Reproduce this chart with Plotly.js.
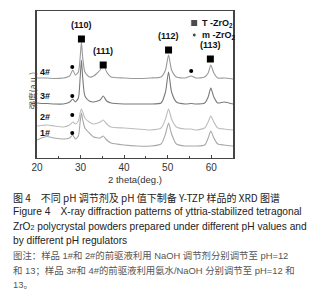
<!DOCTYPE html>
<html><head><meta charset="utf-8">
<script src="https://cdn.plot.ly/plotly-3.0.1.min.js"></script>
<style>
html,body{margin:0;padding:0;background:#fff;width:320px;height:300px;overflow:hidden;}
#chart{position:absolute;left:0;top:0;width:320px;height:190px;}
.cap{position:absolute;left:13px;white-space:nowrap;font-family:"Liberation Sans","Noto Sans CJK SC",sans-serif;font-size:10.2px;color:#222;line-height:12px;}
.note{color:#555;font-size:9.4px;}
</style></head>
<body>
<div id="chart"></div>
<div class="cap" style="top:192px;font-family:'Noto Sans CJK SC',sans-serif;font-size:10px;">图 4　不同 pH 调节剂及 pH 值下制备 Y-TZP 样品的 XRD 图谱</div>
<div class="cap" style="top:206px;">Figure 4　X-ray diffraction patterns of yttria-stabilized tetragonal</div>
<div class="cap" style="top:221px;">ZrO<span style="font-size:7px;">2</span> polycrystal powders prepared under different pH values and</div>
<div class="cap" style="top:235px;">by different pH regulators</div>
<div class="cap note" style="top:250px;">图注：样品 1#和 2#的前驱液利用 NaOH 调节剂分别调节至 pH=12</div>
<div class="cap note" style="top:265px;">和 13；样品 3#和 4#的前驱液利用氨水/NaOH 分别调节至 pH=12 和</div>
<div class="cap note" style="top:279px;">13。</div>
<script>
const twoTheta = [20,21,22.3,24,26,27.5,28.2,28.8,29.5,29.9,30.2,30.5,31,32,33,34.5,35.2,36,37,40,43,46,48.5,49.5,50.2,50.9,52,54,55.4,56.5,58.5,59.3,59.9,60.6,61.5,63,65];
const sample4 = [80,80,80,79.5,80,82,88,83,86,100,116,100,86,81,82,88,94,86,81,80,79.5,80,81,88,103,88,81,80,82,80,81,85,93,85,80,80,79];
const sample3 = [55,54.5,54.5,54,54,56,59,56,60,80,98,80,62,57,56,58,62,57,55,54,54,54,55,66,86,66,56,54,54.5,54,55,61,70,61,55,56,54];
const sample2 = [32,32.5,33,32,31,33,36,34,37,45,49,46,40,36,34,36,38,34,31,30,29,28,30,39,49,39,31,29,29,28,30,36,42,36,30,29,28];
const sample1 = [18,20,21.5,20,19,20,23,19,22,36,45,38,30,25,21,20,22,18,15,13,12,12,14,24,35,24,14,12,12,12,13,20,27,20,14,13,12];
const sampleNames = ["4#","3#","2#","1#"];
const sampleLabelY = [86,62,41,25];
const sampleColors = ["#9a9a9a","#7a7a7a","#bdbdbd","#a8a8a8"];

const tPeakX = [30.2,35.2,50.2,59.8];
const tPeakY = [119,93,108,99];
const tPeakLabels = ["(110)","(111)","(112)","(113)"];
const mPeakX = [28.1,55.4,28.1,28.1,28.1];
const mPeakY = [91,87,62,43,25];

const series = [sample4, sample3, sample2, sample1];
const traces = series.map((s,i)=>({
  x: twoTheta, y: s, type:'scatter', mode:'lines',
  line:{color:sampleColors[i], width:1.1, shape:'spline', smoothing:0.6},
  hoverinfo:'skip', showlegend:false
}));
traces.push({x:tPeakX, y:tPeakY, type:'scatter', mode:'markers',
  marker:{symbol:'square', size:7, color:'#000'}, showlegend:false});
traces.push({x:mPeakX, y:mPeakY, type:'scatter', mode:'markers',
  marker:{symbol:'circle', size:4, color:'#000'}, showlegend:false});
traces.push({x:[56.1,56.1], y:[135,123], type:'scatter', mode:'markers',
  marker:{symbol:['square','circle'], size:[7,4], color:'#000'}, showlegend:false});

const ann = [];
const lblFont = {family:'Liberation Sans, Arial, sans-serif', size:9, color:'#111'};
tPeakLabels.forEach((t,i)=>ann.push({x:tPeakX[i], y:tPeakY[i]+7.5, text:'<b>'+t+'</b>', showarrow:false, xanchor:'center', yanchor:'bottom', font:lblFont}));
sampleNames.forEach((t,i)=>ann.push({x:20.2, y:sampleLabelY[i], text:'<b>'+t+'</b>', showarrow:false, xanchor:'left', yanchor:'middle', font:lblFont}));
ann.push({x:57.4, y:135, text:'<b>T -ZrO<sub>2</sub></b>', showarrow:false, xanchor:'left', yanchor:'middle', font:lblFont});
ann.push({x:57.4, y:123, text:'<b>m -ZrO<sub>2</sub></b>', showarrow:false, xanchor:'left', yanchor:'middle', font:lblFont});
ann.push({xref:'paper', yref:'paper', x:-0.062, y:0.46, text:'强度(a.u.)', textangle:-90, showarrow:false,
  font:{family:'Noto Sans CJK SC, sans-serif', size:8.5, color:'#444'}});

const layout = {
  width:320, height:190,
  margin:{l:37, r:87, t:11, b:32},
  paper_bgcolor:'#fff', plot_bgcolor:'#fff',
  font:{family:'Liberation Sans, Arial, sans-serif', size:10, color:'#333'},
  xaxis:{range:[20,65], tickvals:[20,30,40,50,60], ticks:'inside', ticklen:3, tickcolor:'#444',
    minor:{dtick:5, tick0:20, ticks:'inside', ticklen:2, tickcolor:'#444'},
    showline:true, linecolor:'#444', linewidth:1.2, mirror:true, showgrid:false, zeroline:false,
    tickfont:{size:10, color:'#333'},
    title:{text:'2 theta(deg.)', font:{size:9.5, color:'#333'}, standoff:4}},
  yaxis:{range:[0,147], showticklabels:false, ticks:'', showline:true, linecolor:'#444', linewidth:1.6,
    mirror:true, showgrid:false, zeroline:false},
  annotations: ann
};
Plotly.newPlot('chart', traces, layout, {staticPlot:true, displayModeBar:false});
</script>
</body></html>
